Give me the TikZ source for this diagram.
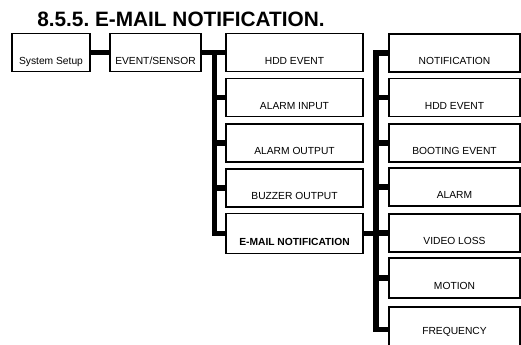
\documentclass[tikz,border=0pt]{standalone}
\usepackage{fontspec}
\setmainfont{Liberation Sans}
\frenchspacing

\begin{document}
\begin{tikzpicture}[x=0.75pt,y=0.75pt,yscale=-1,xscale=1,
	menubox/.style={draw, line width=1.4pt, fill=white, inner sep=0pt, minimum height=28.5pt, text height=17.5pt, text depth=0pt, font=\fontsize{7.7}{9}\selectfont},
	bus/.style={line width=4.1pt}]
	\useasboundingbox (0,0) rectangle (521,345);
	\clip (0,0) rectangle (521,345);
	% title
	\node [anchor=base west, inner sep=0pt, font=\fontsize{15.6}{18}\selectfont\bfseries] (title) at (37,26.7) {8.5.5. E-MAIL NOTIFICATION.};
	% first level
	\node [menubox, minimum width=58.5pt] (ss) at (51,52.5) {System Setup};
	\node [menubox, minimum width=68.25pt] (es) at (155.5,52.5) {EVENT/SENSOR};
	% second level
	\node [menubox, minimum width=102.75pt] (hdd1) at (294.5,52.5) {HDD EVENT};
	\node [menubox, minimum width=102.75pt] (ai) at (294.5,97.5) {ALARM INPUT};
	\node [menubox, minimum width=102.75pt] (ao) at (294.5,143) {ALARM OUTPUT};
	\node [menubox, minimum width=102.75pt] (bo) at (294.5,188) {BUZZER OUTPUT};
	\node [menubox, minimum width=102.75pt, minimum height=30pt, font=\fontsize{7.7}{9}\selectfont\bfseries] (em) at (294.5,233.5) {E-MAIL NOTIFICATION};
	% third level
	\node [menubox, minimum width=98.25pt] (no) at (454.5,53) {NOTIFICATION};
	\node [menubox, minimum width=98.25pt] (hdd2) at (454.5,97.5) {HDD EVENT};
	\node [menubox, minimum width=98.25pt] (be) at (454.5,143) {BOOTING EVENT};
	\node [menubox, minimum width=98.25pt] (al) at (454.5,187) {ALARM};
	\node [menubox, minimum width=98.25pt] (vl) at (454.5,233) {VIDEO LOSS};
	\node [menubox, minimum width=98.25pt, minimum height=30pt] (mo) at (454.5,278) {MOTION};
	\node [menubox, minimum width=98.25pt, minimum height=34pt, text height=7.8pt] (fr) at (454.5,329.5) {FREQUENCY};
	% connectors
	\coordinate (busA) at (214.5,52.5);
	\coordinate (busB) at (376,53);
	\draw [bus] (ss.east) -- (es.west);
	\draw [bus] (es.east) -- (hdd1.west);
	\draw [bus] (busA) -- (busA |- em.west);
	\foreach \n in {ai,ao,bo,em}
		\draw [bus] ([xshift=-2.05pt]busA |- \n.west) -- (\n.west);
	\draw [bus] (em.east) -- (em.east -| busB);
	\draw [bus] (busB) -- (busB |- fr.west);
	\foreach \n in {no,hdd2,be,al,vl,mo,fr}
		\draw [bus] ([xshift=-2.05pt]busB |- \n.west) -- (\n.west);
\end{tikzpicture}
\end{document}
